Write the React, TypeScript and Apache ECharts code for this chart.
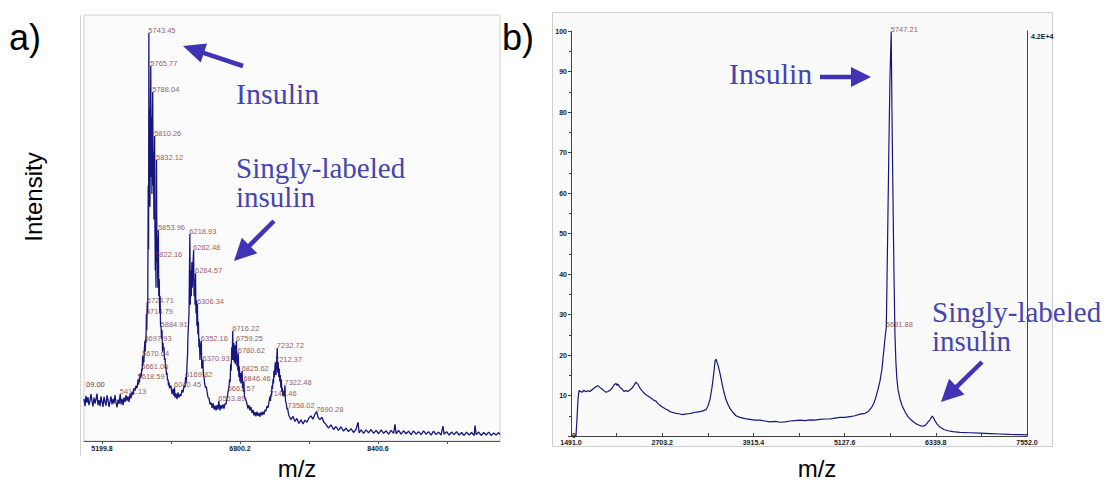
import { useEffect, useRef } from "react";
import * as echarts from "echarts";

const SANS = "'Liberation Sans', Arial, sans-serif";
const SERIF = "'Liberation Serif', 'Times New Roman', serif";
const TRACE = "#16167c";
const PEAK_LABEL = "#7d3030";
const NOTE = "#4545ae";
const ARROW = "#4133b5";

// Panel a – baseline, valleys and unlabelled points of the spectrum (m/z, % intensity)
const baseA: [number, number][] = [
  [4991, 9.9], [5003, 8.2], [5014, 10.6], [5026, 9.0], [5037, 10.3], [5049, 8.4], [5061, 9.5],
  [5072, 11.0], [5084, 9.3], [5095, 8.1], [5107, 10.2], [5119, 8.8], [5130, 9.8], [5142, 11.1],
  [5153, 8.4], [5165, 9.6], [5177, 8.2], [5188, 10.5], [5200, 9.2], [5211, 8.0], [5223, 10.4],
  [5235, 9.1], [5246, 8.3], [5258, 10.7], [5270, 9.6], [5281, 8.0], [5293, 9.3], [5304, 10.5],
  [5316, 8.6], [5328, 9.9], [5339, 8.8], [5351, 10.8], [5362, 9.0], [5374, 7.9], [5386, 9.7],
  [5397, 8.7], [5421, 8.6], [5432, 9.9], [5444, 8.4], [5455, 10.2], [5467, 9.1], [5478, 10.8],
  [5490, 9.4], [5501, 10.5], [5513, 9.2], [5525, 11.0], [5536, 10.0], [5548, 11.6], [5559, 10.8],
  [5571, 12.4], [5583, 11.8], [5594, 13.0], [5606, 12.4], [5624, 13.2], [5629, 14.5], [5635, 13.8],
  [5641, 15.8], [5647, 14.8], [5652, 16.0], [5656, 15.2], [5666, 16.5], [5675, 17.8], [5680, 19.5],
  [5686, 18.5], [5691, 21.5], [5702, 21.0], [5706, 24.0], [5710, 23.0], [5719, 26.0], [5730, 30.0],
  [5736, 60.0], [5740, 45.0], [5748, 62.0], [5752, 78.0], [5756, 55.0], [5760, 70.0], [5770, 62.0],
  [5774, 76.0], [5779, 58.0], [5783, 72.0], [5793, 60.0], [5797, 68.0], [5802, 52.0], [5806, 62.0],
  [5814, 50.0], [5818, 40.0], [5826, 36.0], [5829, 50.0], [5837, 42.0], [5842, 48.0], [5847, 36.0],
  [5858, 34.0], [5864, 38.0], [5869, 30.0], [5874, 34.0], [5879, 27.0], [5890, 24.0], [5896, 26.0],
  [5902, 21.0], [5907, 23.0], [5913, 21.5], [5919, 22.0], [5925, 19.0], [5931, 19.5], [5937, 17.0],
  [5942, 17.5], [5948, 15.5], [5954, 16.0], [5960, 14.2], [5966, 14.5], [5971, 13.0], [5977, 13.8],
  [5983, 12.4], [5989, 12.5], [6000, 13.0], [6012, 11.0], [6023, 12.2], [6035, 10.6], [6047, 10.2],
  [6058, 11.2], [6070, 9.8], [6081, 11.4], [6093, 10.2], [6105, 11.0], [6116, 10.6], [6128, 12.0],
  [6140, 11.4], [6151, 13.0], [6163, 12.6], [6175, 13.5], [6180, 15.0], [6186, 18.0], [6192, 20.0],
  [6196, 24.0], [6200, 26.0], [6209, 30.0], [6224, 32.0], [6230, 40.0], [6236, 34.0], [6242, 42.0],
  [6248, 36.0], [6254, 41.0], [6268, 34.0], [6274, 38.0], [6279, 32.0], [6290, 30.0], [6296, 33.0],
  [6301, 27.0], [6312, 25.0], [6318, 28.0], [6324, 22.0], [6330, 24.0], [6336, 19.0], [6342, 22.0],
  [6357, 17.0], [6363, 19.0], [6376, 15.5], [6384, 15.0], [6390, 13.5], [6401, 12.5], [6410, 12.8],
  [6419, 11.5], [6430, 10.2], [6442, 10.0], [6453, 8.6], [6465, 9.0], [6477, 7.8], [6488, 8.9],
  [6500, 7.4], [6511, 8.3], [6523, 7.2], [6534, 8.4], [6546, 7.4], [6569, 7.2], [6580, 8.4],
  [6592, 7.6], [6604, 8.6], [6615, 7.6], [6627, 8.8], [6638, 8.6], [6650, 10.0], [6672, 12.5],
  [6680, 14.5], [6686, 13.8], [6692, 18.0], [6698, 16.5], [6705, 22.0], [6710, 19.0], [6722, 19.0],
  [6728, 23.0], [6734, 18.5], [6740, 22.5], [6746, 18.0], [6752, 21.0], [6765, 17.5], [6771, 20.0],
  [6776, 16.5], [6787, 15.0], [6793, 17.5], [6800, 14.0], [6806, 16.0], [6812, 13.5], [6818, 15.0],
  [6831, 12.5], [6838, 13.0], [6842, 11.5], [6852, 10.5], [6858, 10.5], [6869, 9.6], [6881, 8.8],
  [6893, 7.6], [6904, 8.4], [6916, 7.2], [6927, 8.0], [6939, 6.6], [6951, 7.3], [6962, 6.0],
  [6974, 6.8], [6986, 5.8], [6997, 6.9], [7009, 5.9], [7020, 6.6], [7032, 5.7], [7044, 6.8],
  [7055, 6.0], [7067, 6.9], [7078, 6.2], [7090, 7.3], [7102, 7.0], [7113, 8.2], [7125, 7.8],
  [7136, 9.0], [7154, 9.4], [7160, 11.0], [7166, 10.5], [7171, 13.0], [7177, 12.2], [7183, 14.5],
  [7189, 13.5], [7194, 16.5], [7200, 15.0], [7206, 17.5], [7218, 15.5], [7224, 18.0], [7238, 16.0],
  [7244, 18.5], [7250, 15.0], [7256, 17.0], [7262, 14.0], [7268, 15.5], [7274, 12.5], [7280, 14.5],
  [7286, 11.5], [7292, 12.5], [7298, 10.5], [7304, 11.8], [7310, 10.5], [7316, 11.2], [7328, 9.5],
  [7334, 9.0], [7340, 8.4], [7346, 7.4], [7352, 7.8], [7363, 6.4], [7368, 6.0], [7392, 5.0],
  [7415, 5.8], [7438, 4.6], [7461, 5.3], [7484, 4.1], [7508, 5.0], [7531, 4.0], [7554, 4.9],
  [7577, 4.4], [7600, 5.4], [7624, 5.9], [7647, 5.1], [7670, 6.3], [7705, 5.6], [7728, 5.0],
  [7751, 5.6], [7774, 4.4], [7798, 3.9], [7827, 3.0], [7856, 3.8], [7885, 2.7], [7914, 3.4],
  [7943, 2.5], [7972, 3.3], [8001, 2.3], [8030, 3.0], [8059, 2.2], [8088, 2.9], [8117, 2.0],
  [8146, 2.7], [8170, 4.4], [8182, 1.9], [8205, 2.6], [8234, 1.8], [8263, 2.6], [8292, 1.9],
  [8321, 2.7], [8350, 1.8], [8379, 2.5], [8408, 1.7], [8437, 2.6], [8466, 1.8], [8495, 2.4],
  [8524, 1.6], [8553, 2.5], [8582, 1.8], [8599, 3.9], [8611, 1.7], [8640, 2.5], [8669, 1.6],
  [8698, 2.4], [8727, 1.7], [8756, 2.3], [8785, 1.5], [8814, 2.4], [8843, 1.6], [8872, 2.2],
  [8901, 1.5], [8930, 2.4], [8959, 1.6], [8988, 2.2], [9017, 1.4], [9046, 2.3], [9075, 1.5],
  [9104, 2.1], [9133, 1.4], [9155, 3.5], [9168, 1.6], [9197, 2.2], [9226, 1.4], [9255, 2.1],
  [9284, 1.5], [9313, 2.2], [9342, 1.4], [9371, 2.0], [9400, 1.3], [9429, 2.1], [9458, 1.4],
  [9487, 2.0], [9516, 1.3], [9527, 3.6], [9540, 1.5], [9569, 2.1], [9598, 1.3], [9627, 2.0],
  [9656, 1.4], [9685, 2.1], [9714, 1.3], [9743, 1.9], [9772, 1.4], [9801, 2.0], [9817, 1.5],
];

// Panel a – labelled peak tops (m/z, % intensity)
const peaksA: [number, number][] = [
  [5411.13, 11.0], [5618.59, 14.5], [5661.06, 17.0], [5670.64, 20.0], [5697.93, 23.5],
  [5714.79, 29.8], [5724.71, 32.5], [5743.45, 95.8], [5765.77, 88.0], [5788.04, 81.9],
  [5810.26, 71.6], [5822.16, 43.2], [5832.12, 66.0], [5853.96, 49.5], [5884.91, 26.8],
  [6040.45, 12.6], [6169.82, 15.0], [6218.93, 48.6], [6262.48, 44.8], [6284.57, 39.4],
  [6306.34, 32.2], [6352.16, 23.5], [6370.93, 18.8], [6553.89, 9.4], [6663.57, 11.7],
  [6716.22, 25.8], [6759.25, 23.5], [6780.62, 20.7], [6825.62, 16.4], [6846.46, 14.0],
  [7148.46, 10.5], [7212.37, 18.5], [7232.72, 21.8], [7322.48, 13.1], [7358.02, 7.8],
  [7690.28, 6.9],
];

const labelTicksA = [5199.8, 6800.2, 8400.6];
const minorTicksA = [6000.0, 7600.4, 9200.8];

// Panel b – spectrum (m/z, relative intensity %)
const baseB: [number, number][] = [
  [1491, 0], [1557, 0], [1570, 4.0], [1584, 9.0], [1597, 11.2], [1637, 10.8], [1664, 11.3],
  [1690, 10.9], [1717, 11.2], [1743, 11.0], [1770, 11.4], [1797, 11.8], [1823, 12.2], [1850, 12.4],
  [1876, 12.0], [1903, 11.6], [1929, 11.2], [1956, 10.8], [1983, 11.0], [2009, 11.3], [2036, 11.8],
  [2062, 12.6], [2089, 13.0], [2102, 12.5], [2116, 12.8], [2142, 12.0], [2169, 11.6], [2195, 11.0],
  [2222, 11.2], [2248, 11.0], [2275, 11.4], [2302, 11.8], [2328, 12.5], [2355, 13.3], [2368, 13.0],
  [2381, 12.8], [2408, 11.8], [2434, 11.2], [2461, 10.6], [2488, 10.2], [2514, 9.9], [2541, 9.5],
  [2567, 9.2], [2594, 8.8], [2620, 8.6], [2647, 8.0], [2674, 7.6], [2700, 7.2], [2727, 6.9],
  [2754, 6.6], [2780, 6.4], [2807, 6.0], [2847, 5.8], [2886, 5.6], [2926, 5.5], [2966, 5.3],
  [3006, 5.4], [3046, 5.5], [3086, 5.6], [3126, 5.8], [3165, 5.9], [3205, 6.0], [3245, 6.2],
  [3285, 6.5], [3312, 7.4], [3338, 9.0], [3365, 12.0], [3392, 16.0], [3405, 18.5], [3418, 19.0],
  [3431, 18.2], [3445, 17.5], [3471, 15.5], [3498, 13.0], [3524, 10.8], [3551, 9.0], [3578, 7.8],
  [3604, 6.8], [3644, 5.8], [3684, 5.0], [3737, 4.6], [3803, 4.3], [3870, 4.1], [3936, 3.9],
  [4003, 3.9], [4069, 3.7], [4136, 3.5], [4202, 3.6], [4269, 3.4], [4335, 3.5], [4402, 3.7],
  [4468, 3.8], [4535, 3.9], [4601, 3.8], [4668, 4.0], [4734, 3.9], [4800, 4.1], [4867, 4.2],
  [4933, 4.2], [5000, 4.4], [5066, 4.6], [5133, 4.6], [5199, 4.8], [5265, 5.0], [5332, 5.4],
  [5398, 5.6], [5438, 6.0], [5465, 6.5], [5491, 7.2], [5518, 8.2], [5544, 9.6], [5571, 11.5],
  [5597, 13.5], [5624, 16.5], [5637, 19.0], [5651, 21.5], [5664, 24.0], [5691, 38.0], [5704, 55.0],
  [5717, 72.0], [5730, 88.0], [5757, 80.0], [5770, 60.0], [5784, 40.0], [5797, 25.0], [5810, 18.0],
  [5823, 14.0], [5837, 11.5], [5863, 9.2], [5890, 7.6], [5930, 6.0], [5970, 4.8], [6010, 4.0],
  [6049, 3.4], [6089, 2.9], [6129, 2.6], [6155, 2.4], [6182, 2.5], [6209, 2.8], [6235, 3.4],
  [6262, 4.0], [6282, 4.6], [6295, 4.9], [6308, 4.5], [6328, 3.8], [6355, 3.0], [6395, 2.2],
  [6448, 1.6], [6501, 1.3], [6567, 1.1], [6660, 0.9], [6794, 0.8], [6927, 0.7], [7060, 0.6],
  [7193, 0.5], [7326, 0.4], [7459, 0.35], [7552, 0.3],
];

// Panel b – labelled points
const peaksB: [number, number][] = [[5681.88, 27.0], [5747.21, 99.8]];

const labelTicksB = [1491.0, 2703.2, 3915.4, 5127.6, 6339.8, 7552.0];
const minorTicksB = [2097.1, 3309.3, 4521.5, 5733.7, 6945.9];
const yLabelsB = [10, 20, 30, 40, 50, 60, 70, 80, 90, 100];

const merge = (a: [number, number][], b: [number, number][]) =>
  [...a, ...b].sort((p, q) => p[0] - q[0]);

function arrow(tail: number[], tip: number[], head: number, half: number) {
  const dx = tip[0] - tail[0];
  const dy = tip[1] - tail[1];
  const len = Math.hypot(dx, dy);
  const ux = dx / len;
  const uy = dy / len;
  const bx = tip[0] - ux * head;
  const by = tip[1] - uy * head;
  const px = -uy;
  const py = ux;
  return [
    {
      type: "line",
      z: 50,
      shape: { x1: tail[0], y1: tail[1], x2: bx + ux * 2, y2: by + uy * 2 },
      style: { stroke: ARROW, lineWidth: 4.5 },
    },
    {
      type: "polygon",
      z: 50,
      shape: {
        points: [
          [tip[0], tip[1]],
          [bx + px * half, by + py * half],
          [bx - px * half, by - py * half],
        ],
      },
      style: { fill: ARROW },
    },
  ];
}

function text(x: number, y: number, s: string, font: string, fill: string, extra: any = {}) {
  return {
    type: "text",
    z: 60,
    x,
    y,
    ...extra,
    style: { text: s, font, fill, textAlign: "left", textVerticalAlign: "middle", ...(extra.style || {}) },
  };
}

const peakLabel = {
  show: true,
  position: [0, 0],
  align: "left",
  verticalAlign: "bottom",
  offset: [0, 2],
  fontFamily: SANS,
  fontSize: 7.5,
  color: PEAK_LABEL,
  formatter: (p: any) => p.value[0].toFixed(2),
};

const tickLabel = { fontFamily: SANS, fontSize: 7, fontWeight: "bold", color: "#1a1a1a" };

export default function App() {
  const ref = useRef<HTMLDivElement>(null);

  useEffect(() => {
    if (!ref.current) return;
    const chart = echarts.init(ref.current, null, { renderer: "svg" });

    const option: any = {
      animation: false,
      backgroundColor: "#ffffff",
      grid: [
        {
          left: 84, top: 15, width: 416, height: 426, show: true,
          backgroundColor: "#fbfbfb", borderColor: "#cfcfcf", borderWidth: 1,
        },
        { left: 571, top: 31, width: 456, height: 405 },
      ],
      xAxis: [
        {
          gridIndex: 0, type: "value", min: 4991, max: 9816.6,
          axisLine: { show: true, onZero: false, lineStyle: { color: "#555", width: 1 } },
          axisTick: { show: true, length: 3, customValues: [...labelTicksA, ...minorTicksA], lineStyle: { color: "#555" } },
          axisLabel: { ...tickLabel, margin: 4, customValues: labelTicksA, formatter: (v: number) => v.toFixed(1) },
          splitLine: { show: false },
        },
        {
          gridIndex: 1, type: "value", min: 1491, max: 7552,
          axisLine: { show: true, onZero: false, lineStyle: { color: "#444", width: 1 } },
          axisTick: { show: true, inside: true, length: 3, customValues: [...labelTicksB, ...minorTicksB], lineStyle: { color: "#444" } },
          axisLabel: { ...tickLabel, margin: 3, customValues: labelTicksB, formatter: (v: number) => v.toFixed(1) },
          splitLine: { show: false },
        },
      ],
      yAxis: [
        { gridIndex: 0, type: "value", min: 0, max: 100, show: false },
        {
          gridIndex: 1, type: "value", min: 0, max: 100, interval: 10,
          axisLine: { show: true, onZero: false, lineStyle: { color: "#444", width: 1 } },
          axisTick: { show: true, length: 3, lineStyle: { color: "#444" } },
          minorTick: { show: true, splitNumber: 2, length: 2, lineStyle: { color: "#444" } },
          axisLabel: { ...tickLabel, margin: 4, customValues: yLabelsB },
          splitLine: { show: false },
        },
        {
          gridIndex: 1, type: "value", min: 0, max: 100, position: "right",
          axisLine: { show: true, onZero: false, lineStyle: { color: "#444", width: 1 } },
          axisTick: { show: false }, axisLabel: { show: false }, splitLine: { show: false },
        },
      ],
      series: [
        {
          type: "line", xAxisIndex: 0, yAxisIndex: 0, data: merge(baseA, peaksA),
          showSymbol: false, lineStyle: { color: TRACE, width: 1.3 }, z: 3,
        },
        {
          type: "scatter", xAxisIndex: 0, yAxisIndex: 0, data: peaksA, symbolSize: 1,
          itemStyle: { color: "rgba(0,0,0,0)" }, label: peakLabel, z: 4,
        },
        {
          type: "line", xAxisIndex: 1, yAxisIndex: 1, data: merge(baseB, peaksB),
          showSymbol: false, lineStyle: { color: TRACE, width: 1.2 }, z: 3,
        },
        {
          type: "scatter", xAxisIndex: 1, yAxisIndex: 1, data: peaksB, symbolSize: 1,
          itemStyle: { color: "rgba(0,0,0,0)" }, label: peakLabel, z: 4,
        },
      ],
      graphic: [
        // panel frames
        { type: "line", z: 1, shape: { x1: 80.5, y1: 15, x2: 80.5, y2: 456 }, style: { stroke: "#d4d4d4", lineWidth: 1 } },
        {
          type: "rect", z: -1, shape: { x: 552.5, y: 12.5, width: 500, height: 434 },
          style: { fill: "#fafafa", stroke: "#cfcfcf", lineWidth: 1 },
        },
        // panel letters and axis titles
        text(9, 37, "a)", `36px ${SANS}`, "#000"),
        text(502, 37, "b)", `36px ${SANS}`, "#000"),
        text(33, 197, "Intensity", `24px ${SANS}`, "#000", {
          rotation: Math.PI / 2, style: { textAlign: "center" },
        }),
        text(297, 468, "m/z", `24px ${SANS}`, "#000", { style: { textAlign: "center" } }),
        text(817, 468, "m/z", `24px ${SANS}`, "#000", { style: { textAlign: "center" } }),
        // axis extras
        text(86, 384, "09.00", `7.5px ${SANS}`, PEAK_LABEL),
        text(572, 435, "0", `bold 7px ${SANS}`, "#1a1a1a"),
        text(1031, 36, "4.2E+4", `bold 7px ${SANS}`, "#1a1a1a"),
        // annotations
        text(236, 93, "Insulin", `30px ${SERIF}`, NOTE),
        text(236, 182, "Singly-labeled\ninsulin", `29px ${SERIF}`, NOTE, { style: { lineHeight: 29 } }),
        text(729, 73, "Insulin", `30px ${SERIF}`, NOTE),
        text(932, 326, "Singly-labeled\ninsulin", `29px ${SERIF}`, NOTE, { style: { lineHeight: 29 } }),
        ...arrow([243, 66], [183, 46], 22, 10),
        ...arrow([274, 221], [234, 261], 22, 11),
        ...arrow([820, 77], [871, 77], 20, 10),
        ...arrow([982, 362], [941, 402], 22, 11),
      ],
    };

    chart.setOption(option);
    return () => chart.dispose();
  }, []);

  return (
    <div
      ref={ref}
      style={{ position: "absolute", left: 0, top: 0, width: 1114, height: 483 }}
    />
  );
}
